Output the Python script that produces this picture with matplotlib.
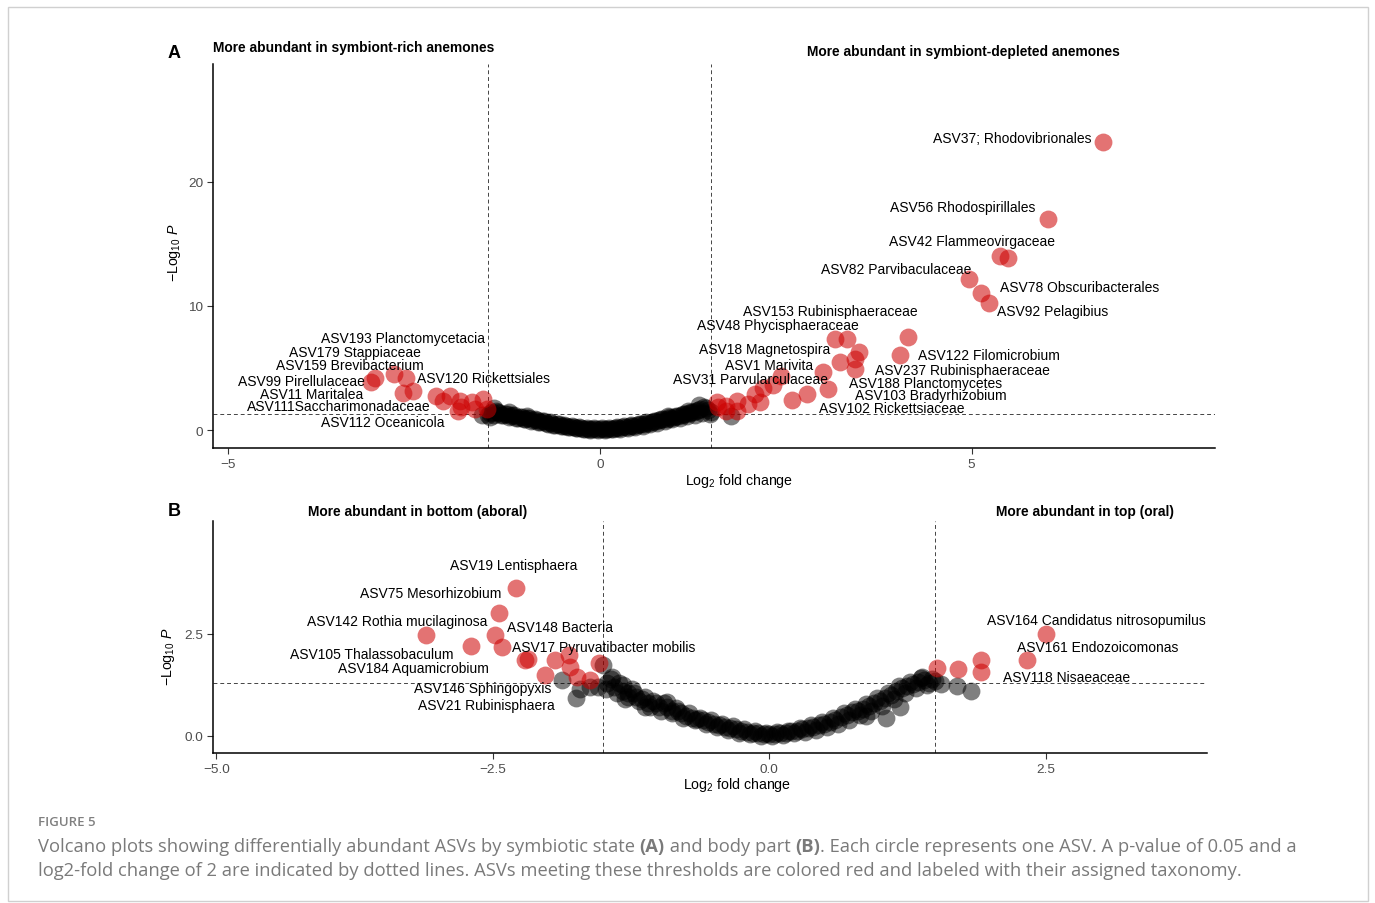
import matplotlib
matplotlib.use("Agg")
import matplotlib.pyplot as plt
from matplotlib.patches import Rectangle

plt.rcParams['font.family'] = ['Liberation Sans', 'DejaVu Sans']
plt.rcParams['mathtext.fontset'] = 'custom'
plt.rcParams['mathtext.rm'] = 'Liberation Sans'
plt.rcParams['mathtext.it'] = 'Liberation Sans:italic'

# ---- panel A: symbiont-rich vs symbiont-depleted ----
a_sig_x = [-3.07, -3.02, -2.76, -2.61, -2.64, -2.51, -2.20, -2.11, -2.02, -1.88,
           -1.86, -1.72, -1.68, -1.57, -1.51, -1.91,
           4.14, 4.03, 3.16, 3.32, 3.49, 3.43, 3.23, 3.43, 3.00, 3.07,
           2.78, 2.58, 2.44, 2.33, 2.19, 2.08, 2.15, 1.99, 1.84, 1.84,
           1.70, 1.59, 1.57, 1.70,
           6.76, 6.02, 5.38, 5.49, 4.96, 5.12, 5.23]
a_sig_y = [3.85, 4.17, 4.52, 4.17, 2.98, 3.17, 2.72, 2.36, 2.72, 2.36,
           1.83, 2.23, 1.69, 2.50, 1.69, 1.56,
           7.48, 6.05, 7.34, 7.34, 6.27, 5.73, 5.51, 4.92, 4.65, 3.31,
           2.90, 2.44, 4.38, 3.63, 3.36, 2.90, 2.23, 2.10, 2.36, 1.56,
           1.96, 1.83, 2.23, 1.56,
           23.2, 17.0, 14.0, 13.85, 12.18, 11.05, 10.2]

a_ns_x = [-1.59, -1.50, -1.48, -1.45, -1.40, -1.35, -1.30, -1.25, -1.20, -1.15,
          -1.10, -1.05, -1.00, -0.95, -0.90, -0.85, -0.80, -0.75, -0.70, -0.65,
          -0.60, -0.55, -0.50, -0.45, -0.40, -0.35, -0.30, -0.25, -0.20, -0.15,
          -0.10, -0.05, 0.00, 0.05, 0.10, 0.15, 0.20, 0.25, 0.30, 0.35,
          0.40, 0.45, 0.50, 0.55, 0.60, 0.65, 0.70, 0.75, 0.80, 0.85,
          0.90, 0.95, 1.00, 1.05, 1.10, 1.15, 1.20, 1.25, 1.30, 1.35,
          1.40, 1.45, 1.50, 1.77, -1.42, -1.22, -0.98, 0.92, 1.18, 1.34,
          -1.475, -1.425, -1.375, -1.325, -1.275, -1.225, -1.175, -1.125, -1.075, -1.025,
          -0.975, -0.925, -0.875, -0.825, -0.775, -0.725, -0.675, -0.625, -0.575, -0.525,
          -0.475, -0.425, -0.375, -0.325, -0.275, -0.225, -0.175, -0.125, -0.075, -0.025,
          0.025, 0.075, 0.125, 0.175, 0.225, 0.275, 0.325, 0.375, 0.425, 0.475,
          0.525, 0.575, 0.625, 0.675, 0.725, 0.775, 0.825, 0.875, 0.925, 0.975,
          1.025, 1.075, 1.125, 1.175, 1.225, 1.275, 1.325, 1.375, 1.425, 1.475]
a_ns_y = [1.20, 1.25, 1.05, 1.45, 1.55, 1.35, 1.20, 1.30, 1.10, 1.20,
          1.00, 1.05, 0.90, 0.95, 0.78, 0.80, 0.65, 0.70, 0.52, 0.55,
          0.42, 0.45, 0.32, 0.35, 0.26, 0.22, 0.20, 0.14, 0.12, 0.10,
          0.08, 0.07, 0.08, 0.08, 0.10, 0.12, 0.15, 0.18, 0.22, 0.26,
          0.30, 0.35, 0.40, 0.45, 0.52, 0.58, 0.66, 0.72, 0.80, 0.86,
          0.92, 1.00, 1.06, 1.14, 1.22, 1.28, 1.36, 1.45, 1.55, 1.70,
          1.85, 1.60, 1.45, 1.15, 1.75, 1.45, 1.15, 1.10, 1.50, 2.05,
          1.40, 1.20, 1.42, 1.22, 1.32, 1.05, 1.18, 0.98, 1.05, 0.85,
          0.95, 0.75, 0.85, 0.65, 0.74, 0.55, 0.62, 0.42, 0.50, 0.33,
          0.40, 0.22, 0.30, 0.13, 0.22, 0.05, 0.16, 0.02, 0.14, 0.00,
          0.14, 0.02, 0.18, 0.05, 0.24, 0.10, 0.30, 0.16, 0.40, 0.25,
          0.50, 0.35, 0.62, 0.48, 0.75, 0.60, 0.88, 0.72, 1.02, 0.86,
          1.15, 1.00, 1.30, 1.12, 1.45, 1.25, 1.62, 1.40, 1.75, 1.30]

a_labels = ['ASV193 Planctomycetacia', 'ASV179 Stappiaceae', 'ASV159 Brevibacterium',
            'ASV99 Pirellulaceae', 'ASV11 Maritalea', 'ASV111Saccharimonadaceae',
            'ASV112 Oceanicola', 'ASV120 Rickettsiales',
            'ASV37; Rhodovibrionales', 'ASV56 Rhodospirillales', 'ASV42 Flammeovirgaceae',
            'ASV82 Parvibaculaceae', 'ASV78 Obscuribacterales', 'ASV92 Pelagibius',
            'ASV153 Rubinisphaeraceae', 'ASV48 Phycisphaeraceae', 'ASV18 Magnetospira',
            'ASV1 Marivita', 'ASV31 Parvularculaceae', 'ASV122 Filomicrobium',
            'ASV237 Rubinisphaeraceae', 'ASV188 Planctomycetes', 'ASV103 Bradyrhizobium',
            'ASV102 Rickettsiaceae']
# repelled label anchors (centre of each text, data units)
a_label_pos = [(-2.65, 7.42), (-3.29, 6.29), (-3.36, 5.24), (-4.01, 3.95), (-3.88, 2.90),
               (-3.51, 1.94), (-2.92, 0.65), (-1.56, 4.19),
               (5.54, 23.55), (4.88, 17.98), (5.01, 15.24), (3.99, 12.98), (6.45, 11.53),
               (6.09, 9.60), (3.10, 9.60), (2.39, 8.47), (2.22, 6.53), (2.27, 5.24),
               (2.03, 4.11), (5.23, 6.05), (4.88, 4.84), (4.38, 3.79), (4.45, 2.82),
               (3.92, 1.77)]

# ---- panel B: bottom (aboral) vs top (oral) ----
b_sig_x = [-2.29, -2.44, -3.10, -2.48, -2.70, -2.42, -2.21, -2.18, -1.94, -1.81,
           -1.80, -2.03, -1.74, -1.54, -1.62,
           2.50, 2.33, 1.92, 1.92, 1.71, 1.52]
b_sig_y = [3.62, 3.01, 2.48, 2.48, 2.21, 2.19, 1.86, 1.89, 1.85, 1.99,
           1.68, 1.50, 1.44, 1.78, 1.36,
           2.50, 1.86, 1.85, 1.56, 1.64, 1.66]

b_ns_x = [-1.87, -1.71, -1.75, -1.55, -1.50, -1.47, -1.43, -1.40, -1.36, -1.32,
          -1.28, -1.24, -1.20, -1.15, -1.10, -1.05, -1.00, -0.95, -0.92, -0.88,
          -0.84, -0.80, -0.75, -0.70, -0.65, -0.60, -0.55, -0.50, -0.45, -0.40,
          -0.35, -0.30, -0.25, -0.20, -0.15, -0.10, -0.05, 0.00, 0.05, 0.10,
          0.15, 0.20, 0.25, 0.30, 0.35, 0.40, 0.45, 0.50, 0.55, 0.60,
          0.65, 0.70, 0.75, 0.80, 0.85, 0.90, 0.95, 1.00, 1.05, 1.10,
          1.15, 1.18, 1.20, 1.25, 1.30, 1.35, 1.40, 1.45, 1.50, 1.55,
          1.70, 1.83, -1.62, -1.30, -1.12, 0.88, 1.06, 1.38,
          -1.475, -1.425, -1.375, -1.325, -1.275, -1.225, -1.175, -1.125, -1.075, -1.025,
          -0.975, -0.925, -0.875, -0.825, -0.775, -0.725, -0.675, -0.625, -0.575, -0.525,
          -0.475, -0.425, -0.375, -0.325, -0.275, -0.225, -0.175, -0.125, -0.075, -0.025,
          0.025, 0.075, 0.125, 0.175, 0.225, 0.275, 0.325, 0.375, 0.425, 0.475,
          0.525, 0.575, 0.625, 0.675, 0.725, 0.775, 0.825, 0.875, 0.925, 0.975,
          1.025, 1.075, 1.125, 1.175, 1.225, 1.275, 1.325, 1.375, 1.425, 1.475]
b_ns_y = [1.36, 1.15, 0.92, 1.20, 1.75, 1.30, 1.40, 1.20, 1.30, 1.10,
          1.05, 1.15, 0.95, 0.90, 0.80, 0.85, 0.72, 0.80, 0.72, 0.62,
          0.68, 0.55, 0.50, 0.45, 0.42, 0.38, 0.33, 0.30, 0.26, 0.22,
          0.20, 0.16, 0.13, 0.10, 0.08, 0.06, 0.05, 0.04, 0.05, 0.06,
          0.08, 0.11, 0.13, 0.16, 0.19, 0.22, 0.26, 0.30, 0.35, 0.40,
          0.46, 0.52, 0.58, 0.62, 0.66, 0.74, 0.80, 0.85, 0.92, 1.00,
          1.10, 0.72, 1.18, 1.22, 1.28, 1.32, 1.38, 1.30, 1.35, 1.28,
          1.23, 1.10, 1.20, 0.90, 0.70, 0.50, 0.45, 1.44,
          1.15, 1.45, 1.05, 1.25, 0.95, 1.05, 0.85, 0.95, 0.72, 0.80,
          0.62, 0.82, 0.55, 0.62, 0.45, 0.55, 0.38, 0.45, 0.30, 0.38,
          0.22, 0.30, 0.15, 0.24, 0.08, 0.17, 0.04, 0.12, 0.00, 0.08,
          0.00, 0.09, 0.02, 0.13, 0.06, 0.19, 0.10, 0.26, 0.15, 0.34,
          0.22, 0.44, 0.30, 0.56, 0.40, 0.66, 0.52, 0.78, 0.62, 0.92,
          0.74, 1.05, 0.90, 1.22, 1.05, 1.32, 1.18, 1.42, 1.26, 1.40]

b_labels = ['ASV19 Lentisphaera', 'ASV75 Mesorhizobium', 'ASV142 Rothia mucilaginosa',
            'ASV148 Bacteria', 'ASV17 Pyruvatibacter mobilis', 'ASV105 Thalassobaculum',
            'ASV184 Aquamicrobium', 'ASV146 Sphingopyxis', 'ASV21 Rubinisphaera',
            'ASV164 Candidatus nitrosopumilus', 'ASV161 Endozoicomonas', 'ASV118 Nisaeaceae']
b_label_pos = [(-2.31, 4.19), (-3.06, 3.50), (-3.36, 2.82), (-1.89, 2.67), (-1.50, 2.18),
               (-3.59, 2.01), (-3.22, 1.67), (-2.59, 1.18), (-2.56, 0.76),
               (2.96, 2.84), (2.97, 2.18), (2.69, 1.45)]

fc_cut = 1.5
p_cut = 1.30  # -log10(0.05)

RED = '#CD0000'
GREY_TXT = '#4D4D4D'
PT = 165


def volcano(ax, sig_x, sig_y, ns_x, ns_y, labels, label_pos, xlim, ylim, xticks, yticks, fmt):
    ax.scatter(ns_x, ns_y, s=PT, c='black', alpha=0.5, linewidths=0, zorder=2)
    ax.scatter(sig_x, sig_y, s=PT, c=RED, alpha=0.55, linewidths=0, zorder=3)
    for v in (-fc_cut, fc_cut):
        ax.axvline(v, color='#444444', lw=0.7, ls=(0, (4, 3)), zorder=1)
    ax.axhline(p_cut, color='#444444', lw=0.7, ls=(0, (4, 3)), zorder=1)
    for lab, (lx, ly) in zip(labels, label_pos):
        ax.text(lx, ly, lab, ha='center', va='center', fontsize=10, color='black', zorder=4)
    ax.set_xlim(*xlim)
    ax.set_ylim(*ylim)
    ax.set_xticks(xticks)
    ax.set_yticks(yticks)
    ax.set_xticklabels([fmt(t) for t in xticks])
    ax.set_yticklabels([fmt(t) for t in yticks])
    for s in ('top', 'right'):
        ax.spines[s].set_visible(False)
    for s in ('left', 'bottom'):
        ax.spines[s].set_linewidth(1.1)
    ax.tick_params(direction='out', length=4, width=0.8, color='#333333',
                   labelsize=9.7, labelcolor=GREY_TXT, pad=3)
    ax.set_xlabel(r'Log$_2$ fold change', fontsize=10.2)


fig = plt.figure(figsize=(13.75, 9.04), dpi=100)

axA = fig.add_axes([0.1549, 0.5033, 0.7287, 0.4248])
volcano(axA, a_sig_x, a_sig_y, a_ns_x, a_ns_y, a_labels, a_label_pos,
        (-5.20, 8.27), (-1.45, 29.5), [-5, 0, 5], [0, 10, 20],
        lambda t: '\u2212%d' % abs(t) if t < 0 else '%d' % t)
axA.set_ylabel(r'$-$Log$_{10}$ $\it{P}$', fontsize=10.2)
axA.xaxis.set_label_coords(0.525, -0.06)
axA.yaxis.set_label_coords(-0.030, 0.51)

axB = fig.add_axes([0.1549, 0.1659, 0.7229, 0.2566])
volcano(axB, b_sig_x, b_sig_y, b_ns_x, b_ns_y, b_labels, b_label_pos,
        (-5.03, 3.96), (-0.42, 5.27), [-5.0, -2.5, 0.0, 2.5], [0.0, 2.5],
        lambda t: '\u2212%.1f' % abs(t) if t < 0 else '%.1f' % t)
axB.set_ylabel(r'$-$Log$_{10}$ $\it{P}$', fontsize=10.2)
axB.xaxis.set_label_coords(0.527, -0.095)
axB.yaxis.set_label_coords(-0.036, 0.42)

W, H = 1375, 904


def ftext(px, py, s, **kw):
    return fig.text(px / W, 1 - py / H, s, **kw)


# panel tags and direction headers
ftext(174, 53, 'A', fontsize=13, fontweight='bold', ha='center', va='center')
ftext(174, 512, 'B', fontsize=13, fontweight='bold', ha='center', va='center')
ftext(213, 48, 'More abundant in symbiont-rich anemones', fontsize=9.9, fontweight='bold', va='center')
ftext(807, 52, 'More abundant in symbiont-depleted anemones', fontsize=9.9, fontweight='bold', va='center')
ftext(308, 512, 'More abundant in bottom (aboral)', fontsize=9.9, fontweight='bold', va='center')
ftext(996, 512, 'More abundant in top (oral)', fontsize=9.9, fontweight='bold', va='center')

# frame around the figure
fig.patches.append(Rectangle((8 / W, 1 - 902 / H), 1360 / W, 894 / H, transform=fig.transFigure,
                             fill=False, edgecolor='#D0D0D0', lw=1.0))

# caption
CAP = '#7A7A7A'
ftext(38, 823, 'FIGURE 5', fontsize=9.5, color='#808080', fontweight='semibold',
      family=['Open Sans', 'DejaVu Sans'], va='center')

renderer = fig.canvas.get_renderer()


def caption_line(px, py, runs):
    x = px
    for s, w in runs:
        t = ftext(x, py, s, fontsize=13.2, color=CAP, fontweight=w,
                  family=['Open Sans', 'DejaVu Sans'], va='center')
        x += t.get_window_extent(renderer).width


caption_line(38, 847, [
    ('Volcano plots showing differentially abundant ASVs by symbiotic state ', 'normal'),
    ('(A)', 'bold'), (' and body part ', 'normal'), ('(B)', 'bold'),
    ('. Each circle represents one ASV. A p-value of 0.05 and a', 'normal')])
caption_line(38, 871, [
    ('log2-fold change of 2 are indicated by dotted lines. ASVs meeting these thresholds '
     'are colored red and labeled with their assigned taxonomy.', 'normal')])

fig.savefig('out.png', dpi=100)
